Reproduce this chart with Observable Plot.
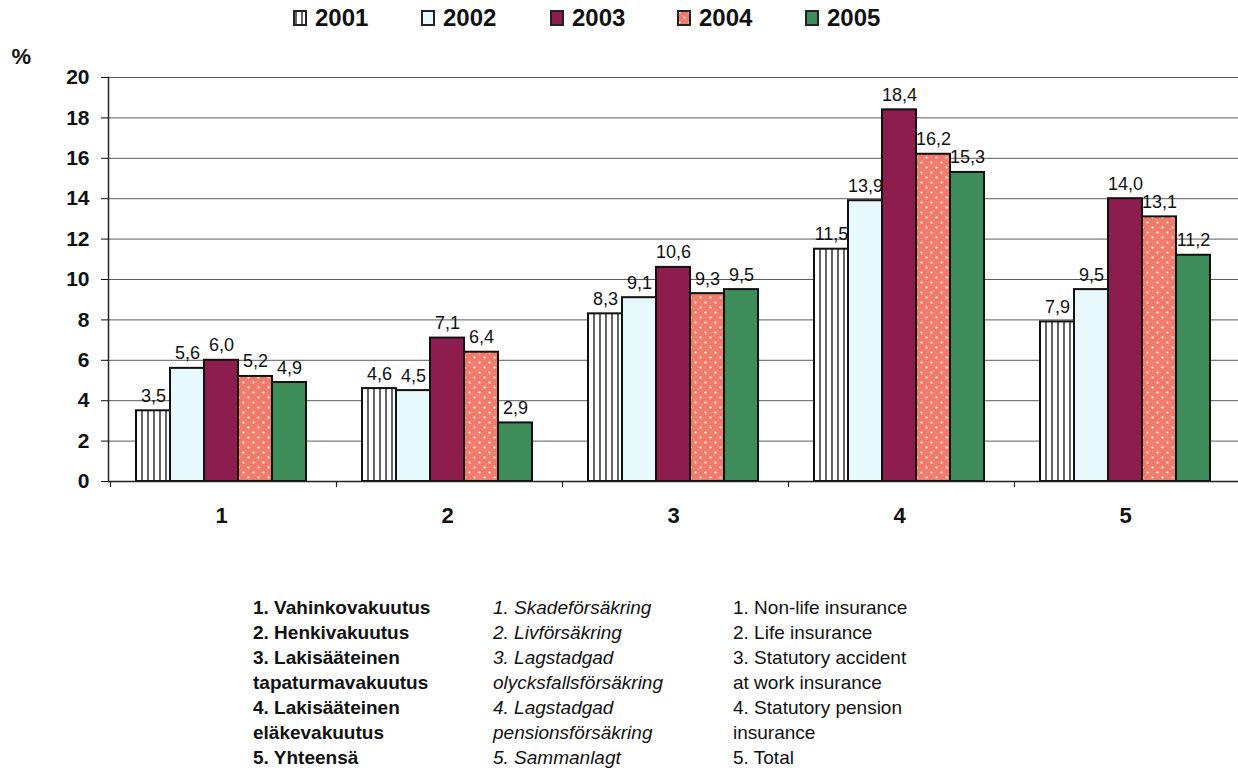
<!DOCTYPE html>
<html>
<head>
<meta charset="utf-8">
<script src="https://cdn.jsdelivr.net/npm/d3@7"></script>
<script src="https://cdn.jsdelivr.net/npm/@observablehq/plot@0.6"></script>
<style>
  body { margin: 0; background: #fff; font-family: "Liberation Sans", Arial, sans-serif; }
  #wrap { position: relative; width: 1238px; height: 770px; overflow: hidden; }
  #legend { position: absolute; left: 0; top: 0; width: 1238px; height: 40px; }
  .li { position: absolute; top: 4px; display: flex; align-items: center; font-weight: bold; font-size: 24px; color: #111; }
  .li svg { margin-right: 8px; }
  #chart { position: absolute; left: 0; top: 40px; }
  .col { position: absolute; top: 595px; font-size: 19px; line-height: 25px; color: #111; white-space: nowrap; }
</style>
</head>
<body>
<div id="wrap">
  <svg width="0" height="0" style="position:absolute">
    <defs>
      <pattern id="p2001" patternUnits="userSpaceOnUse" width="6" height="10">
        <rect width="6" height="10" fill="#fff"/>
        <line x1="3" y1="0" x2="3" y2="10" stroke="#222" stroke-width="1.4"/>
      </pattern>
      <pattern id="p2002" patternUnits="userSpaceOnUse" width="10" height="10">
        <rect width="10" height="10" fill="#e8f9fb"/>
      </pattern>
      <pattern id="p2003" patternUnits="userSpaceOnUse" width="10" height="10">
        <rect width="10" height="10" fill="#8c1d4d"/>
      </pattern>
      <pattern id="p2004" patternUnits="userSpaceOnUse" width="10" height="10">
        <rect width="10" height="10" fill="#f27c6c"/>
        <circle cx="2.5" cy="2.5" r="1.1" fill="#fff"/>
        <circle cx="7.5" cy="7.5" r="1.1" fill="#fff"/>
      </pattern>
      <pattern id="p2005" patternUnits="userSpaceOnUse" width="10" height="10">
        <rect width="10" height="10" fill="#3e8c5a"/>
      </pattern>
    </defs>
  </svg>
  <div id="legend"></div>
  <div id="chart"></div>
  <div class="col" style="left:253px; font-weight:bold;">
    <div>1. Vahinkovakuutus</div><div>2. Henkivakuutus</div><div>3. Lakisääteinen</div><div>tapaturmavakuutus</div><div>4. Lakisääteinen</div><div>eläkevakuutus</div><div>5. Yhteensä</div>
  </div>
  <div class="col" style="left:493px; font-style:italic;">
    <div>1. Skadeförsäkring</div><div>2. Livförsäkring</div><div>3. Lagstadgad</div><div>olycksfallsförsäkring</div><div>4. Lagstadgad</div><div>pensionsförsäkring</div><div>5. Sammanlagt</div>
  </div>
  <div class="col" style="left:733px;">
    <div>1. Non-life insurance</div><div>2. Life insurance</div><div>3. Statutory accident</div><div>at work insurance</div><div>4. Statutory pension</div><div>insurance</div><div>5. Total</div>
  </div>
</div>
<script>
// ---- data ----
const groups = ["1", "2", "3", "4", "5"];
const years = ["2001", "2002", "2003", "2004", "2005"];
const v2001 = [3.5, 4.6, 8.3, 11.5, 7.9];
const v2002 = [5.6, 4.5, 9.1, 13.9, 9.5];
const v2003 = [6.0, 7.1, 10.6, 18.4, 14.0];
const v2004 = [5.2, 6.4, 9.3, 16.2, 13.1];
const v2005 = [4.9, 2.9, 9.5, 15.3, 11.2];
const yTicks = [0, 2, 4, 6, 8, 10, 12, 14, 16, 18, 20];
const yUnit = ["%"];
const fills = ["url(#p2001)", "url(#p2002)", "url(#p2003)", "url(#p2004)", "url(#p2005)"];

const series = [v2001, v2002, v2003, v2004, v2005];
const table = [];
groups.forEach((g, i) => years.forEach((y, k) => table.push({group: g, year: y, value: series[k][i]})));

const fmt = v => v.toFixed(1).replace(".", ",");

// legend
const leg = document.getElementById("legend");
const legLeft = [293, 421, 550, 677, 805];
years.forEach((y, k) => {
  const d = document.createElement("div");
  d.className = "li";
  d.style.left = legLeft[k] + "px";
  d.innerHTML = `<svg width="14" height="16"><rect x="1" y="1" width="12" height="14" fill="${fills[k]}" stroke="#222" stroke-width="2"/></svg><span>${y}</span>`;
  leg.appendChild(d);
});

const chart = Plot.plot({
  width: 1238,
  height: 500,
  marginLeft: 107,
  marginRight: 0,
  marginTop: 37,
  marginBottom: 59,
  style: {fontFamily: "'Liberation Sans', Arial, sans-serif", color: "#111", background: "transparent"},
  fx: {domain: groups, padding: 0},
  x: {domain: years, paddingInner: 0, paddingOuter: 0.73, axis: null},
  y: {domain: [0, 20]},
  color: {type: "ordinal", domain: years, range: fills},
  marks: [
    Plot.gridY(yTicks, {stroke: "#333", strokeOpacity: 0.8, strokeWidth: 1}),
    Plot.barY(table, {fx: "group", x: "year", y: "value", fill: "year", stroke: "#111", strokeWidth: 2}),
    Plot.text(table, {fx: "group", x: "year", y: "value", text: d => fmt(d.value), lineAnchor: "bottom", dy: -9, fontSize: 18, fill: "#111"}),
    Plot.ruleY([0], {stroke: "#222", strokeWidth: 1.5}),
    Plot.ruleX(groups, {fx: d => d, x: () => years[0], y1: 0, y2: -0.3, dx: -43, stroke: "#222", strokeWidth: 1.2}),
    Plot.frame({anchor: "left", facetAnchor: "left", stroke: "#222", strokeWidth: 1.5}),
    Plot.axisY(yTicks, {anchor: "left", tickSize: 7, tickPadding: 12, fontSize: 21, fontWeight: "bold", label: null, tickFormat: d => d, facetAnchor: "left"}),
    Plot.text(yUnit, {text: d => d, frameAnchor: "top-left", facetAnchor: "left", dx: -97, dy: -29, textAnchor: "start", fontSize: 22, fontWeight: "bold", fill: "#111"}),
    Plot.axisFx({anchor: "bottom", tickSize: 0, tickPadding: 26, fontSize: 22, fontWeight: "bold", label: null})
  ]
});
document.getElementById("chart").appendChild(chart);
</script>
</body>
</html>
